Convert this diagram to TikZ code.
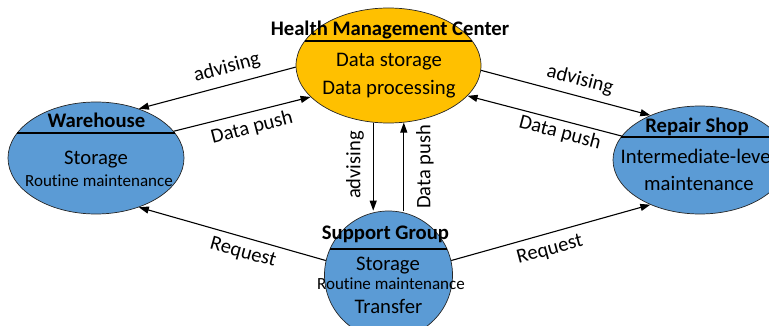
\documentclass[tikz,border=0pt]{standalone}
\usepackage{fontspec}
\setmainfont{Carlito}[Ligatures=NoCommon]
\usetikzlibrary{arrows.meta,shapes.geometric}
\definecolor{gold}{HTML}{FFC000}
\definecolor{blu}{HTML}{5B9BD5}
\begin{document}
\begin{tikzpicture}[x=1pt,y=-1pt,
  ell/.style={ellipse, draw=black!85, line width=0.7pt, inner sep=0pt},
  hmcs/.style={ell, fill=gold},
  bls/.style={ell, fill=blu},
  txt/.style={font=\fontsize{20.7}{24}\selectfont, inner sep=0pt, anchor=base},
  ttl/.style={txt, font=\bfseries\fontsize{20.7}{24}\selectfont},
  sml/.style={txt, font=\fontsize{17}{20}\selectfont},
  lbl/.style={font=\fontsize{20.5}{24}\selectfont, inner sep=0pt},
  arr/.style={-{Triangle[length=10pt,width=7pt]}, line width=1.1pt},
  divl/.style={line width=1.1pt}]
\useasboundingbox (0,0) rectangle (769,326);
\clip (0,0) rectangle (769,326);
% ellipses
\node[hmcs, minimum width=185pt, minimum height=115pt] (hmc) at (388.5,65.5) {};
\node[bls, minimum width=176pt, minimum height=112pt] (wh) at (96,158) {};
\node[bls, minimum width=174pt, minimum height=108pt] (rs) at (700,160) {};
\node[bls, minimum width=128pt, minimum height=128pt] (sg) at (388.5,275) {};
% dividers
\draw[divl] (304.8,41) -- (472.2,41);
\draw[divl] (17.3,133) -- (174.7,133);
\draw[divl] (621.3,137) -- (778.7,137);
\draw[divl] (330,249) -- (447,249);
% texts
\node[ttl] (hmct) at (390,36) {Health Management Center};
\node[txt] (hmc1) at (389,67) {Data storage};
\node[txt] (hmc2) at (389,95) {Data processing};
\node[ttl] (wht) at (96.5,128) {Warehouse};
\node[txt] (wh1) at (96,165) {Storage};
\node[sml] (wh2) at (99,187) {Routine maintenance};
\node[ttl] (rst) at (697,133) {Repair Shop};
\node[txt] (rs1) at (698,164) {Intermediate-level};
\node[txt] (rs2) at (699,191) {maintenance};
\node[ttl] (sgt) at (385.5,240) {Support Group};
\node[txt] (sg1) at (388,270.5) {Storage};
\node[sml] (sg2) at (391,289) {Routine maintenance};
\node[txt] (sg3) at (388.5,313) {Transfer};
% connectors
\draw[arr] (hmc.181) -- (wh.49);
\draw[arr] (wh.19) -- (hmc.202);
\draw[arr] (hmc.357) -- (rs.138);
\draw[arr] (rs.163) -- (hmc.339);
\draw[arr] (hmc.255) -- (hmc.255 |- sg.north);
\draw[arr] (hmc.285 |- sg.north) -- (hmc.285);
\draw[arr] (sg.167) -- (wh.311);
\draw[arr] (sg.13) -- (rs.222);
% labels
\node[lbl, rotate=15] (l1) at (227,68) {advising};
\node[lbl, rotate=14.5] (l2) at (252,128) {Data push};
\node[lbl, rotate=-14.5] (l3) at (580,80) {advising};
\node[lbl, rotate=-14.7] (l4) at (560,133) {Data push};
\node[lbl, rotate=90] (l5) at (355,165) {advising};
\node[lbl, rotate=90] (l6) at (425,167) {Data push};
\node[lbl, rotate=-15.5] (l7) at (243,253) {Request};
\node[lbl, rotate=15] (l8) at (550,250) {Request};
\end{tikzpicture}
\end{document}
